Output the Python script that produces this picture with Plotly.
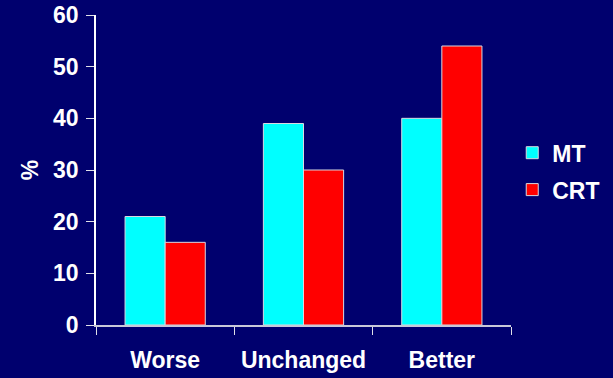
import plotly.graph_objects as go

categories = ["Worse", "Unchanged", "Better"]
mt_values = [21, 39, 40]
crt_values = [16, 30, 54]
y_ticks = [0, 10, 20, 30, 40, 50, 60]

BG = "#00006E"
FONT = "Liberation Sans, Arial, sans-serif"

fig = go.Figure()
fig.add_trace(go.Bar(
    name="MT", x=categories, y=mt_values, legendgroup="mt",
    marker=dict(color="#00FFFF", line=dict(color="#D8D8E0", width=1)),
))
fig.add_trace(go.Bar(
    name="CRT", x=categories, y=crt_values, legendgroup="crt",
    marker=dict(color="#FF0000", line=dict(color="#D8D8E0", width=1)),
))

fig.update_layout(
    width=613, height=378,
    paper_bgcolor=BG, plot_bgcolor=BG,
    margin=dict(l=96, r=102, t=15, b=53, autoexpand=False),
    barmode="group", bargap=0.42, bargroupgap=0,
    font=dict(family=FONT, color="white", size=23, weight="bold"),
    showlegend=True,
    legend=dict(
        x=1.003, y=0.625, xanchor="left", yanchor="top",
        bgcolor="rgba(0,0,0,0)", traceorder="grouped",
        tracegroupgap=4, itemwidth=30,
        font=dict(family=FONT, size=23, color="white", weight="bold"),
    ),
)

fig.update_xaxes(
    showline=True, linecolor="#C8C8D8", linewidth=1.5,
    ticks="outside", tickson="boundaries", ticklen=8, tickcolor="#E0E0E8",
    tickfont=dict(size=23), ticklabelstandoff=14,
    showgrid=False, zeroline=False,
)
fig.update_yaxes(
    range=[0, 60], tickvals=y_ticks,
    showline=True, linecolor="white", linewidth=1.5,
    ticks="outside", ticklen=8, tickcolor="#E0E0E8",
    tickfont=dict(size=23), ticklabelstandoff=3,
    showgrid=False, zeroline=False,
    title=dict(text="%", font=dict(size=23), standoff=8),
)

fig.write_html("out.html")
